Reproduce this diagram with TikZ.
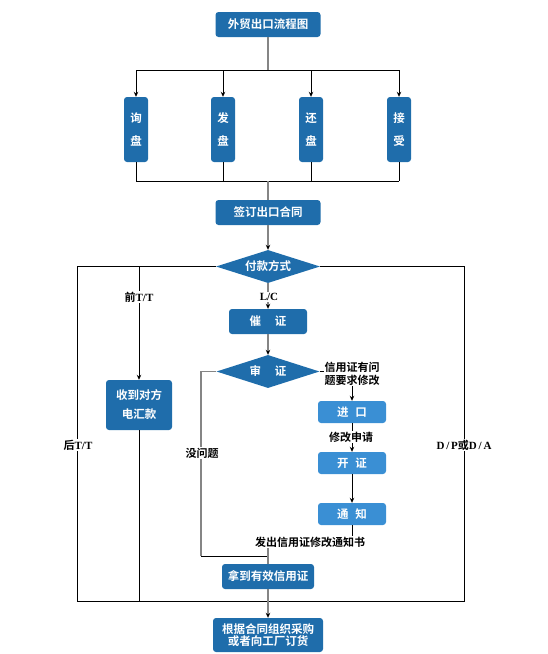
\documentclass[tikz,border=0pt]{standalone}
\usepackage{fontspec}
\setmainfont{Liberation Serif}
\newfontfamily\cjk{Noto Sans CJK SC}[BoldFont={Noto Sans CJK SC Bold}]
\newcommand\zhtxt[1]{{\cjk #1}}
\usetikzlibrary{shapes.geometric,arrows.meta}
\definecolor{dblue}{HTML}{1F6DAB}
\definecolor{lblue}{HTML}{3A8FD4}
\definecolor{lgray}{HTML}{858585}
\tikzset{
  box/.style={fill=dblue, rounded corners=3pt, text=white, inner sep=0pt, align=center,
    font=\cjk\bfseries\fontsize{11.5}{13}\selectfont},
  lbox/.style={box, fill=lblue},
  dia/.style={diamond, aspect=3, fill=dblue, text=white, inner sep=0pt,
    font=\cjk\bfseries\fontsize{11.5}{13}\selectfont},
  lab/.style={fill=white, inner sep=1pt, align=center, text=black,
    font=\bfseries\fontsize{11}{12.5}\selectfont},
  gl/.style={draw=lgray, line width=1.6pt},
  bl/.style={draw=black, line width=0.8pt},
  arr/.style={-{Stealth[length=5pt,width=4.5pt,color=black]}},
}
\begin{document}
\begin{tikzpicture}[x=1pt,y=-1pt]
\useasboundingbox (0,0) rectangle (548,654);
% nodes
\node[box, minimum width=105pt, minimum height=25pt] (title) at (268,24.5) {外贸出口流程图};
\node[box, minimum width=24pt, minimum height=65pt] (xun) at (136,129.5) {询\\[10pt]盘};
\node[box, minimum width=24pt, minimum height=65pt] (fa) at (223,129.5) {发\\[10pt]盘};
\node[box, minimum width=24pt, minimum height=65pt] (huan) at (311,129.5) {还\\[10pt]盘};
\node[box, minimum width=24pt, minimum height=65pt] (jie) at (399,129.5) {接\\[10pt]受};
\node[box, minimum width=105pt, minimum height=25pt] (sign) at (268,212.5) {签订出口合同};
\node[dia, minimum width=104pt, minimum height=33pt] (pay) at (268,266.5) {付款方式};
\node[box, minimum width=78pt, minimum height=25pt] (cui) at (268,321.5) {催\hspace{1.2em}证};
\node[dia, minimum width=103pt, minimum height=33pt] (shen) at (268,371.5) {审\hspace{1.2em}证};
\node[box, minimum width=66pt, minimum height=50pt, font=\cjk\bfseries\fontsize{11.5}{13}\selectfont] (shou) at (139,405) {收到对方\\[6pt]电汇款};
\node[lbox, minimum width=68pt, minimum height=22pt] (jk) at (352,412) {进\hspace{0.6em}口};
\node[lbox, minimum width=68pt, minimum height=22pt] (kz) at (352,463) {开\hspace{0.6em}证};
\node[lbox, minimum width=68pt, minimum height=22pt] (tz) at (352,514) {通\hspace{0.6em}知};
\node[box, minimum width=92pt, minimum height=25pt] (na) at (268,576.5) {拿到有效信用证};
\node[box, minimum width=110pt, minimum height=34pt, font=\cjk\bfseries\fontsize{11.5}{12}\selectfont] (gen) at (268,635) {根据合同组织采购\\或者向工厂订货};
% coordinates
\coordinate (top) at (268,70);
\coordinate (bot) at (268,181);
\coordinate (L) at (77,266.5);
\coordinate (R) at (464,266.5);
\coordinate (LB) at (77,601);
\coordinate (RB) at (464,601);
\coordinate (ML) at (201,371.5);
\coordinate (MLB) at (201,556);
\coordinate (MJ) at (268,556);
\coordinate (TJ) at (352,542);
\coordinate (TJL) at (268,542);
\coordinate (SR) at (352,371.5);
% connectors
\draw[gl] (title.south) -- (top);
\draw[bl] (xun.north |- top) -- (jie.north |- top);
\foreach \n in {xun,fa,huan,jie} {
  \draw[bl,arr] (\n.north |- top) -- (\n.north);
  \draw[bl] (\n.south) -- (\n.south |- bot);
}
\draw[bl] (xun.south |- bot) -- (jie.south |- bot);
\draw[gl] (bot) -- (sign.north);
\draw[gl,arr] (sign.south) -- (pay.north);
\draw[bl] (pay.west) -- (L) -- (LB) -- (RB) -- (R) -- (pay.east);
\draw[bl,arr] (pay.west -| shou.north) -- (shou.north);
\draw[bl] (shou.south) -- (shou.south |- LB);
\draw[gl,arr] (pay.south) -- (cui.north);
\draw[gl,arr] (cui.south) -- (shen.north);
\draw[gl] (shen.west) -- (ML) -- (MLB);
\draw[bl] (MLB) -- (MJ);
\draw[bl,arr] (shen.east) -- (SR) -- (jk.north);
\draw[bl,arr] (jk.south) -- (kz.north);
\draw[bl,arr] (kz.south) -- (tz.north);
\draw[bl] (tz.south) -- (TJ) -- (TJL);
\draw[gl] (TJL) -- (na.north);
\draw[gl,arr] (na.south) -- (gen.north);
% labels
\node[lab] (l1) at (139,297) {\zhtxt{前}T/T};
\node[lab] (l2) at (269,297) {L/C};
\node[lab, inner sep=0.5pt] (l3) at (352,374) {\zhtxt{信用证有问}\\\zhtxt{题要求修改}};
\node[lab] (l4) at (351,437) {\zhtxt{修改申请}};
\node[lab] (l5) at (310,542) {\zhtxt{发出信用证修改通知书}};
\node[lab] (l6) at (78,445) {\zhtxt{后}T/T};
\node[lab] (l7) at (464,445) {D\,/\,P\zhtxt{或}D\,/\,A};
\node[lab] (l8) at (202,453) {\zhtxt{没问题}};
\end{tikzpicture}
\end{document}
